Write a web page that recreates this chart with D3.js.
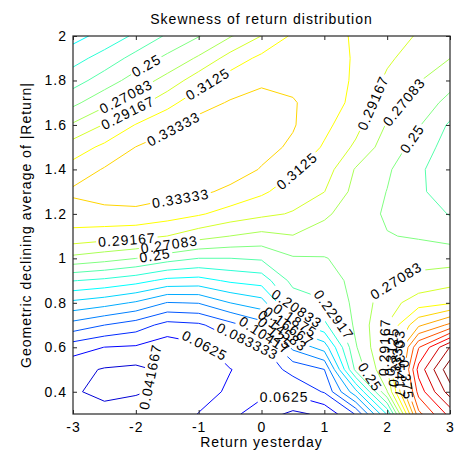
<!DOCTYPE html>
<html>
<head>
<meta charset="utf-8">
<title>Skewness of return distribution</title>
<script src="https://cdn.jsdelivr.net/npm/d3@7"></script>
<style>
  html, body { margin: 0; padding: 0; background: #fff; }
  svg text { font-family: "Liberation Sans", Arial, Helvetica, sans-serif; letter-spacing: 1px; fill: #000; }
</style>
</head>
<body>
<svg id="chart" width="456" height="465"></svg>
<script>
// Grid axes: return yesterday (columns) and geometric declining average of |Return| (rows)
const returnYesterday = [-3, -2.5, -2, -1.5, -1, -0.5, 0, 0.5, 1, 1.5, 2, 2.5, 3];
const geoAverage = [0.3, 0.4, 0.5, 0.6, 0.7, 0.8, 0.9, 1.0, 1.1, 1.2, 1.3, 1.4, 1.5, 1.6, 1.7, 1.8, 1.9, 2.0];

// Skewness of the return distribution, one row per geometric-average value
const skewAt0_3 = [0.050, 0.052, 0.050, 0.052, 0.063, 0.068, 0.052, 0.037, 0.046, 0.085, 0.190, 0.390, 0.445];
const skewAt0_4 = [0.045, 0.034, 0.040, 0.045, 0.056, 0.065, 0.068, 0.068, 0.085, 0.160, 0.270, 0.425, 0.490];
const skewAt0_5 = [0.048, 0.040, 0.037, 0.046, 0.057, 0.062, 0.070, 0.090, 0.104, 0.235, 0.290, 0.445, 0.515];
const skewAt0_6 = [0.0722, 0.0622, 0.060, 0.050, 0.058, 0.072, 0.078, 0.130, 0.155, 0.248, 0.296, 0.415, 0.480];
const skewAt0_7 = [0.1169, 0.1042, 0.0938, 0.076, 0.0797, 0.0972, 0.1167, 0.178, 0.203, 0.255, 0.292, 0.350, 0.380];
const skewAt0_8 = [0.1617, 0.1542, 0.1432, 0.124, 0.126, 0.1458, 0.158, 0.215, 0.227, 0.256, 0.283, 0.302, 0.310];
const skewAt0_9 = [0.2091, 0.2037, 0.1953, 0.182, 0.1797, 0.191, 0.1964, 0.236, 0.240, 0.256, 0.268, 0.278, 0.284];
const skewAt1_0 = [0.265, 0.2583, 0.2502, 0.238, 0.2290, 0.229, 0.232, 0.248, 0.249, 0.257, 0.257, 0.262, 0.262];
const skewAt1_1 = [0.3058, 0.3013, 0.2986, 0.2915, 0.2792, 0.2706, 0.2644, 0.270, 0.263, 0.259, 0.251, 0.248, 0.243];
const skewAt1_2 = [0.3236, 0.3274, 0.327, 0.3223, 0.315, 0.304, 0.2963, 0.290, 0.274, 0.261, 0.247, 0.240, 0.228];
const skewAt1_3 = [0.337, 0.342, 0.346, 0.340, 0.338, 0.3284, 0.316, 0.302, 0.292, 0.264, 0.2495, 0.233, 0.218];
const skewAt1_4 = [0.3208, 0.335, 0.343, 0.347, 0.347, 0.344, 0.332, 0.315, 0.302, 0.269, 0.253, 0.233, 0.215];
const skewAt1_5 = [0.3018, 0.3171, 0.3337, 0.342, 0.347, 0.348, 0.340, 0.330, 0.310, 0.288, 0.260, 0.243, 0.218];
const skewAt1_6 = [0.2736, 0.2929, 0.3135, 0.3287, 0.340, 0.344, 0.342, 0.335, 0.318, 0.298, 0.269, 0.252, 0.226];
const skewAt1_7 = [0.2448, 0.265, 0.2834, 0.3056, 0.3258, 0.335, 0.338, 0.335, 0.323, 0.307, 0.279, 0.263, 0.243];
const skewAt1_8 = [0.2201, 0.2391, 0.2591, 0.2782, 0.3036, 0.3222, 0.331, 0.328, 0.325, 0.309, 0.288, 0.272, 0.258];
const skewAt1_9 = [0.2005, 0.2166, 0.2365, 0.2548, 0.2738, 0.300, 0.3177, 0.322, 0.324, 0.310, 0.295, 0.282, 0.271];
const skewAt2_0 = [0.180, 0.195, 0.212, 0.232, 0.249, 0.269, 0.292, 0.316, 0.322, 0.3095, 0.300, 0.290, 0.279];

const contourLevels = [0.041667, 0.0625, 0.083333, 0.10417, 0.125, 0.14583, 0.16667, 0.1875,
  0.20833, 0.22917, 0.25, 0.27083, 0.29167, 0.3125, 0.33333, 0.35417, 0.375, 0.39583,
  0.41667, 0.4375, 0.45833, 0.47917, 0.5];

const xTicks = [-3, -2, -1, 0, 1, 2, 3];
const yTicks = [0.4, 0.6, 0.8, 1, 1.2, 1.4, 1.6, 1.8, 2];

// Inline labels: which level, and roughly where along that contour it sits
const labelSpots = [
  [0.25, -1.82, 1.86], [0.27083, -2.16, 1.73], [0.29167, -2.12, 1.65],
  [0.3125, -0.87, 1.79], [0.33333, -1.42, 1.59], [0.33333, -1.28, 1.25],
  [0.3125, 0.57, 1.39], [0.29167, 1.76, 1.70], [0.27083, 2.28, 1.70], [0.25, 2.38, 1.54],
  [0.29167, -2.14, 1.07], [0.27083, -1.46, 1.05], [0.25, -1.69, 1.00],
  [0.27083, 2.14, 0.90], [0.041667, -1.81, 0.47], [0.0625, -0.9, 0.61], [0.0625, 0.37, 0.35],
  [0.083333, -0.25, 0.59], [0.10417, 0.0, 0.64], [0.125, 0.2, 0.66], [0.14583, 0.35, 0.68],
  [0.16667, 0.45, 0.70], [0.1875, 0.55, 0.73], [0.20833, 0.6, 0.80], [0.22917, 1.17, 0.75],
  [0.25, 1.7, 0.46], [0.29167, 1.9, 0.6], [0.3125, 2.05, 0.58], [0.33333, 2.15, 0.55],
  [0.35417, 2.2, 0.5], [0.375, 2.25, 0.45]
];

const skewRows = [skewAt0_3, skewAt0_4, skewAt0_5, skewAt0_6, skewAt0_7, skewAt0_8, skewAt0_9,
  skewAt1_0, skewAt1_1, skewAt1_2, skewAt1_3, skewAt1_4, skewAt1_5, skewAt1_6, skewAt1_7,
  skewAt1_8, skewAt1_9, skewAt2_0];

const svg = d3.select("#chart");
const plot = { left: 73, right: 450, top: 36, bottom: 414 };

const x = d3.scaleLinear().domain([-3, 3]).range([plot.left, plot.right]);
const y = d3.scaleLinear().domain([0.3, 2]).range([plot.bottom, plot.top]);

// MATLAB-style jet colormap
function jet(t) {
  const c = v => Math.max(0, Math.min(1, v));
  return d3.rgb(255 * c(1.5 - Math.abs(4 * t - 3)),
                255 * c(1.5 - Math.abs(4 * t - 2)),
                255 * c(1.5 - Math.abs(4 * t - 1))).formatHex();
}
const colorT = d3.scaleLinear().domain([0, 0.5]).range([0, 1]).clamp(true);

// Contour generation on the grid
const nx = returnYesterday.length, ny = geoAverage.length;
const stepX = returnYesterday[1] - returnYesterday[0];
const stepY = geoAverage[1] - geoAverage[0];
const values = [].concat(...skewRows);
const contours = d3.contours().size([nx, ny]).thresholds(contourLevels)(values);

const gridToPx = (gx, gy) => [
  x(returnYesterday[0] + (gx - 0.5) * stepX),
  y(geoAverage[0] + (gy - 0.5) * stepY)
];
const projection = d3.geoTransform({
  point(gx, gy) { const p = gridToPx(gx, gy); this.stream.point(p[0], p[1]); }
});
const path = d3.geoPath(projection);

const defs = svg.append("defs");
defs.append("clipPath").attr("id", "plot-clip")
  .append("rect")
  .attr("x", plot.left).attr("y", plot.top)
  .attr("width", plot.right - plot.left).attr("height", plot.bottom - plot.top);

const fmt = d3.format(".5~g");
const inside = p => p[0] >= plot.left - 0.5 && p[0] <= plot.right + 0.5 &&
                    p[1] >= plot.top - 0.5 && p[1] <= plot.bottom + 0.5;

// Find where a label sits on its contour and the direction of the line there
function locate(level, dx, dy, half) {
  const c = contours.find(d => d.value === level);
  if (!c) return null;
  const ax = x(dx), ay = y(dy);
  let best = null;
  c.coordinates.forEach(poly => poly.forEach(ring => {
    const pts = ring.map(p => gridToPx(p[0], p[1]));
    const cum = [0];
    for (let i = 1; i < pts.length; i++) {
      cum.push(cum[i - 1] + Math.hypot(pts[i][0] - pts[i - 1][0], pts[i][1] - pts[i - 1][1]));
    }
    for (let i = 1; i < pts.length; i++) {
      const a = pts[i - 1], b = pts[i];
      if (!inside(a) || !inside(b)) continue;
      const vx = b[0] - a[0], vy = b[1] - a[1];
      const L2 = vx * vx + vy * vy;
      if (!L2) continue;
      let t = ((ax - a[0]) * vx + (ay - a[1]) * vy) / L2;
      t = Math.max(0, Math.min(1, t));
      const px = a[0] + t * vx, py = a[1] + t * vy;
      const d = (px - ax) ** 2 + (py - ay) ** 2;
      if (!best || d < best.d) best = { d, px, py, pts, cum, s: cum[i - 1] + t * Math.sqrt(L2) };
    }
  }));
  if (!best) return null;
  const { pts, cum } = best;
  const total = cum[cum.length - 1];
  const at = s => {
    s = Math.max(0, Math.min(total, s));
    let i = d3.bisectLeft(cum, s);
    if (i <= 0) return pts[0];
    const f = (s - cum[i - 1]) / ((cum[i] - cum[i - 1]) || 1);
    return [pts[i - 1][0] + f * (pts[i][0] - pts[i - 1][0]), pts[i - 1][1] + f * (pts[i][1] - pts[i - 1][1])];
  };
  const p1 = at(best.s - half), p2 = at(best.s + half);
  let ang = Math.atan2(p2[1] - p1[1], p2[0] - p1[0]) * 180 / Math.PI;
  if (ang > 90) ang -= 180;
  if (ang <= -90) ang += 180;
  return { x: best.px, y: best.py, angle: ang };
}

// Labels first (measured), so each contour line can be broken under its own labels
const labelLayer = svg.append("g").attr("class", "clabels");
const placed = [];
labelSpots.forEach(([level, lx, ly]) => {
  const text = fmt(level);
  const probe = labelLayer.append("text").style("font-size", "14px").text(text);
  const w = probe.node().getComputedTextLength();
  probe.remove();
  const loc = locate(level, lx, ly, w / 2);
  if (!loc) return;
  placed.push({ level, text, w, ...loc });
});

const lineLayer = svg.insert("g", ".clabels").attr("clip-path", "url(#plot-clip)");
contours.forEach((c, i) => {
  if (!c.coordinates.length) return;
  const own = placed.filter(p => p.level === c.value);
  let maskId = null;
  if (own.length) {
    maskId = "cut-" + i;
    const m = defs.append("mask").attr("id", maskId)
      .attr("maskUnits", "userSpaceOnUse")
      .attr("x", 0).attr("y", 0).attr("width", 456).attr("height", 465);
    m.append("rect").attr("x", 0).attr("y", 0).attr("width", 456).attr("height", 465).attr("fill", "#fff");
    own.forEach(p => {
      m.append("rect")
        .attr("x", -p.w / 2 - 2).attr("y", -7).attr("width", p.w + 4).attr("height", 14)
        .attr("fill", "#000")
        .attr("transform", `translate(${p.x},${p.y}) rotate(${p.angle})`);
    });
  }
  lineLayer.append("path")
    .attr("d", path(c))
    .attr("fill", "none")
    .attr("stroke", jet(colorT(c.value)))
    .attr("stroke-width", 1)
    .attr("stroke-linejoin", "round")
    .attr("mask", maskId ? `url(#${maskId})` : null);
});

placed.forEach(p => {
  labelLayer.append("text")
    .attr("transform", `translate(${p.x},${p.y}) rotate(${p.angle})`)
    .attr("text-anchor", "middle")
    .attr("dy", "0.36em")
    .style("font-size", "14px")
    .text(p.text);
});

// Axes box and inward ticks on all four sides
const axisColor = "#262626";
function styleAxis(g) {
  g.select(".domain").remove();
  g.selectAll(".tick line").attr("stroke", axisColor).attr("stroke-width", 1);
  g.selectAll(".tick text").style("font-size", "14px").attr("fill", "#000");
}
svg.append("g").attr("transform", `translate(0,${plot.bottom})`)
  .call(d3.axisBottom(x).tickValues(xTicks).tickSize(-4).tickPadding(8).tickFormat(d => String(d)))
  .call(styleAxis);
svg.append("g").attr("transform", `translate(0,${plot.top})`)
  .call(d3.axisTop(x).tickValues(xTicks).tickSize(-4).tickFormat(""))
  .call(styleAxis);
svg.append("g").attr("transform", `translate(${plot.left},0)`)
  .call(d3.axisLeft(y).tickValues(yTicks).tickSize(-4).tickPadding(6).tickFormat(d => String(d)))
  .call(styleAxis);
svg.append("g").attr("transform", `translate(${plot.right},0)`)
  .call(d3.axisRight(y).tickValues(yTicks).tickSize(-4).tickFormat(""))
  .call(styleAxis);
svg.selectAll(".tick text").attr("font-family", null);
svg.append("rect")
  .attr("x", plot.left).attr("y", plot.top)
  .attr("width", plot.right - plot.left).attr("height", plot.bottom - plot.top)
  .attr("fill", "none").attr("stroke", axisColor).attr("stroke-width", 1.2);

// Titles
svg.append("text").attr("x", (plot.left + plot.right) / 2).attr("y", 24)
  .attr("text-anchor", "middle").style("font-size", "14px")
  .text("Skewness of return distribution");
svg.append("text").attr("x", (plot.left + plot.right) / 2).attr("y", 447)
  .attr("text-anchor", "middle").style("font-size", "14px")
  .text("Return yesterday");
svg.append("text")
  .attr("transform", `translate(31,${(plot.top + plot.bottom) / 2}) rotate(-90)`)
  .attr("text-anchor", "middle").style("font-size", "14px")
  .text("Geometric declining average of |Return|");
</script>
</body>
</html>
